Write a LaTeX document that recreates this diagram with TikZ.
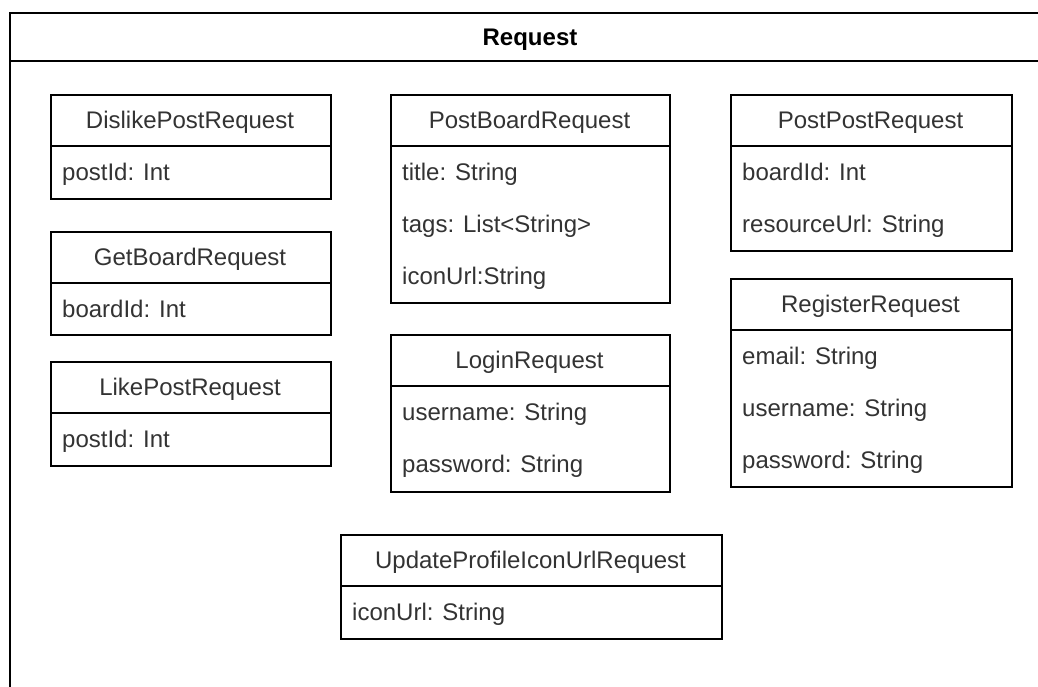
\documentclass[tikz,border=0pt]{standalone}
\usepackage{fontspec}
\setmainfont{Liberation Sans}
\definecolor{txt}{gray}{0.2}
\begin{document}
\begin{tikzpicture}[x=1pt,y=-1pt,
  frame/.style={draw=black,line width=1.8pt},
  box/.style={draw=black,line width=1.6pt,fill=white,anchor=north west,inner sep=0pt},
  divider/.style={draw=black,line width=1.6pt},
  hdr/.style={font=\fontsize{24}{28}\selectfont,text=txt,anchor=center,inner sep=0pt,text height=17.2pt,text depth=0pt},
  attr/.style={font=\fontsize{24}{28}\selectfont,text=txt,anchor=west,inner sep=0pt,text height=17.2pt,text depth=0pt},
  ttl/.style={font=\fontsize{24}{28}\selectfont\bfseries,text=black,anchor=center,inner sep=0pt,text height=17.2pt,text depth=0pt}
]
\useasboundingbox (0,0) rectangle (1038,687);
\fill[white] (0,0) rectangle (1038,687);

% outer frame
\coordinate (fbl) at (10,700);
\coordinate (ftl) at (10,13);
\coordinate (ftr) at (1060,13);
\coordinate (fhl) at (10,61);
\coordinate (fhr) at (1060,61);
\draw[frame] (fbl) -- (ftl) -- (ftr);
\draw[frame] (fhl) -- (fhr);
\node[ttl] (title) at (530,37) {Request};

% DislikePostRequest
\node[box,minimum width=280pt,minimum height=104pt] (dislike) at (50,94) {};
\node[hdr] (dislikeH) at (190,120) {DislikePostRequest};
\draw[divider] (50,146) -- (330,146);
\node[attr] (dislikeA1) at (62,172) {postId: Int};

% GetBoardRequest
\node[box,minimum width=280pt,minimum height=103pt] (getboard) at (50,231) {};
\node[hdr] (getboardH) at (190,257) {GetBoardRequest};
\draw[divider] (50,283) -- (330,283);
\node[attr] (getboardA1) at (62,309) {boardId: Int};

% LikePostRequest
\node[box,minimum width=280pt,minimum height=104pt] (likepost) at (50,361) {};
\node[hdr] (likepostH) at (190,387) {LikePostRequest};
\draw[divider] (50,413) -- (330,413);
\node[attr] (likepostA1) at (62,439) {postId: Int};

% PostBoardRequest
\node[box,minimum width=279pt,minimum height=208pt] (postboard) at (390,94) {};
\node[hdr] (postboardH) at (529.5,120) {PostBoardRequest};
\draw[divider] (390,146) -- (669,146);
\node[attr] (postboardA1) at (402,172) {title: String};
\node[attr] (postboardA2) at (402,224) {tags: List<String>};
\node[attr] (postboardA3) at (402,276) {iconUrl:String};

% LoginRequest
\node[box,minimum width=279pt,minimum height=157pt] (login) at (390,334) {};
\node[hdr] (loginH) at (529.5,360) {LoginRequest};
\draw[divider] (390,386) -- (669,386);
\node[attr] (loginA1) at (402,412) {username: String};
\node[attr] (loginA2) at (402,464) {password: String};

% PostPostRequest
\node[box,minimum width=281pt,minimum height=156pt] (postpost) at (730,94) {};
\node[hdr] (postpostH) at (870.5,120) {PostPostRequest};
\draw[divider] (730,146) -- (1011,146);
\node[attr] (postpostA1) at (742,172) {boardId: Int};
\node[attr] (postpostA2) at (742,224) {resourceUrl: String};

% RegisterRequest
\node[box,minimum width=281pt,minimum height=208pt] (register) at (730,278) {};
\node[hdr] (registerH) at (870.5,304) {RegisterRequest};
\draw[divider] (730,330) -- (1011,330);
\node[attr] (registerA1) at (742,356) {email: String};
\node[attr] (registerA2) at (742,408) {username: String};
\node[attr] (registerA3) at (742,460) {password: String};

% UpdateProfileIconUrlRequest
\node[box,minimum width=381pt,minimum height=104pt] (update) at (340,534) {};
\node[hdr] (updateH) at (530.5,560) {UpdateProfileIconUrlRequest};
\draw[divider] (340,586) -- (721,586);
\node[attr] (updateA1) at (352,612) {iconUrl: String};
\end{tikzpicture}
\end{document}
